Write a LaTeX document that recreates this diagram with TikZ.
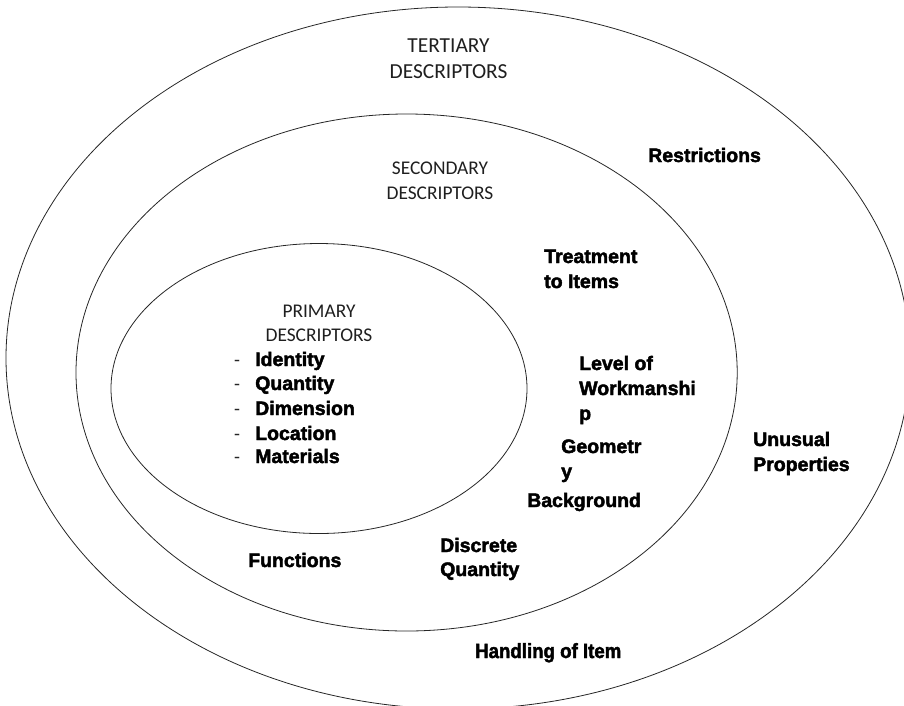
\documentclass[tikz,border=0pt]{standalone}
\usepackage{fontspec}
\setmainfont{Carlito}
\newfontfamily\heavysans[FakeBold=2.2]{Liberation Sans Bold}
\usetikzlibrary{shapes.geometric}

\tikzset{
  ring/.style={draw=black!85, line width=0.8pt, ellipse, inner sep=0pt, outer sep=0pt},
  tierhead/.style={font=\fontsize{21.4}{26}\selectfont, text=black!88, inner sep=0pt, anchor=base},
  subhead/.style={font=\fontsize{19.4}{24}\selectfont, text=black!88, inner sep=0pt, anchor=base},
  item/.style={font=\heavysans\fontsize{19.5}{25}\selectfont, text=black, inner sep=0pt, anchor=base west},
  bullet/.style={font=\fontsize{19.4}{24}\selectfont, text=black!85, inner sep=0pt, anchor=base west}
}

\begin{document}
\begin{tikzpicture}[x=1pt, y=-1pt]
  \useasboundingbox (0,0) rectangle (904,705);

  % nested descriptor rings
  \node[ring, minimum width=904pt, minimum height=702pt] (outer)  at (458,358)   {};
  \node[ring, minimum width=661.2pt, minimum height=517pt] (middle) at (406.6,372.5) {};
  \node[ring, minimum width=416pt, minimum height=290pt] (inner)  at (319,388.5) {};

  % tertiary ring
  \node[tierhead] (ter1) at (448.5,52) {TERTIARY};
  \node[tierhead] (ter2) at (448.5,78) {DESCRIPTORS};
  \node[item] (restr) at (648,162) {Restrictions};
  \node[item] (unus1) at (753,446) {Unusual};
  \node[item] (unus2) at (753,471) {Properties};
  \node[item, font=\heavysans\fontsize{20.5}{25}\selectfont, xscale=0.91, anchor=base west] (handl) at (475,658) {Handling of Item};

  % secondary ring
  \node[subhead] (sec1) at (440,174) {SECONDARY};
  \node[subhead] (sec2) at (440,199) {DESCRIPTORS};
  \node[item] (treat1) at (544,263) {Treatment};
  \node[item] (treat2) at (544,288) {to Items};
  \node[item] (work1) at (579,370) {Level of};
  \node[item] (work2) at (579,395) {Workmanshi};
  \node[item] (work3) at (579,420) {p};
  \node[item] (geo1) at (561,453) {Geometr};
  \node[item] (geo2) at (561,478) {y};
  \node[item] (back) at (527,507) {Background};
  \node[item] (func) at (248,567) {Functions};
  \node[item] (disc1) at (440,552) {Discrete};
  \node[item] (disc2) at (440,576) {Quantity};

  % primary ring
  \node[subhead] (pri1) at (319,317) {PRIMARY};
  \node[subhead] (pri2) at (319,341) {DESCRIPTORS};
  \foreach \name/\txt/\yy in {ident/Identity/366, quant/Quantity/390, dimen/Dimension/415, locat/Location/440, mater/Materials/463}{
    \node[bullet] (\name-dash) at (234,\yy) {-};
    \node[item] (\name) at (255,\yy) {\txt};
  }
\end{tikzpicture}
\end{document}
